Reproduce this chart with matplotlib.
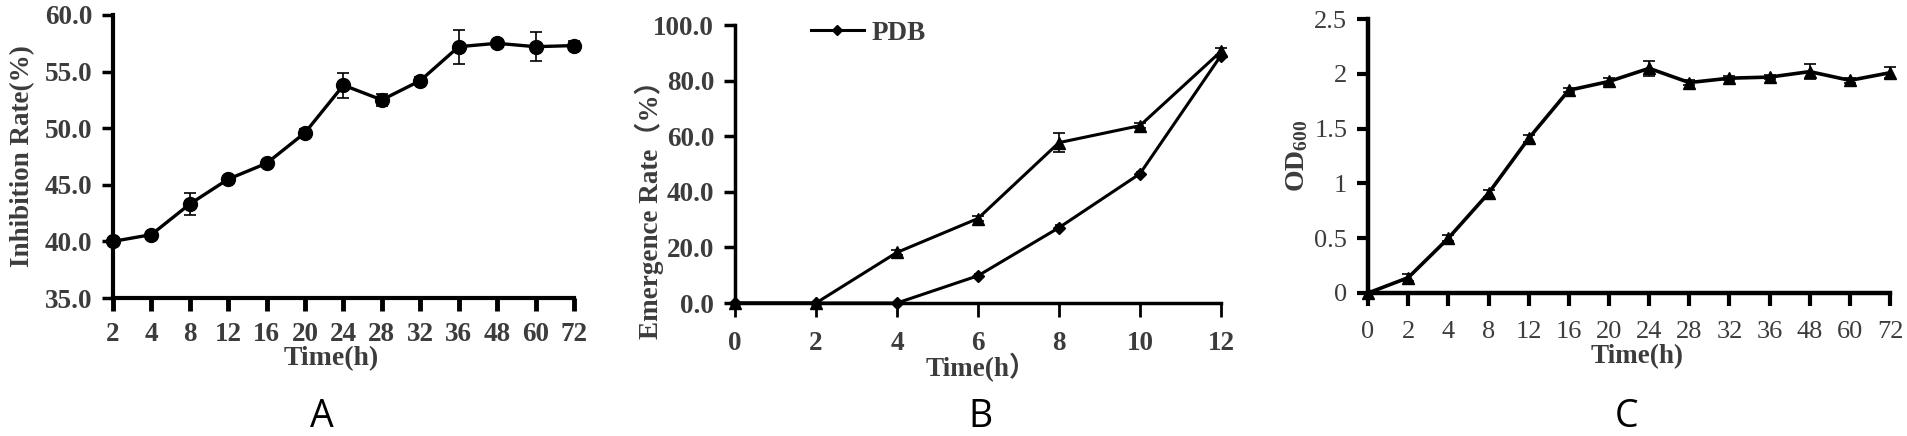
import numpy as np
import matplotlib
matplotlib.use("Agg")
import matplotlib.pyplot as plt
from matplotlib.lines import Line2D

# fonts
plt.rcParams['font.family'] = ['Liberation Serif', 'Noto Sans CJK SC', 'DejaVu Sans']
plt.rcParams['mathtext.default'] = 'regular'
TXT = '#3c3c3c'

# ---- data, panel A: inhibition rate
time_a = ['2', '4', '8', '12', '16', '20', '24', '28', '32', '36', '48', '60', '72']
inhib = [40.0, 40.6, 43.3, 45.5, 46.9, 49.6, 53.8, 52.5, 54.2, 57.2, 57.5, 57.2, 57.3]
inhib_err = [0.2, 0.2, 1.0, 0.3, 0.3, 0.3, 1.1, 0.5, 0.3, 1.5, 0.2, 1.3, 0.4]

# ---- panel B: emergence rate
time_b = [0, 2, 4, 6, 8, 10, 12]
emerg_tri = [0.0, 0.0, 18.2, 30.4, 57.7, 63.8, 90.5]
emerg_tri_err = [0.0, 0.0, 0.8, 0.8, 3.4, 0.8, 1.2]
emerg_pdb = [0.0, 0.0, 0.0, 9.8, 27.1, 46.5, 89.0]
emerg_pdb_err = [0.0, 0.0, 0.0, 0.5, 0.8, 0.8, 0.8]

# ---- panel C: OD600
time_c = ['0', '2', '4', '8', '12', '16', '20', '24', '28', '32', '36', '48', '60', '72']
od600 = [0.0, 0.14, 0.50, 0.91, 1.41, 1.85, 1.93, 2.05, 1.92, 1.96, 1.97, 2.02, 1.94, 2.01]
od600_err = [0.01, 0.03, 0.03, 0.03, 0.03, 0.02, 0.03, 0.07, 0.02, 0.02, 0.02, 0.07, 0.02, 0.05]

fig = plt.figure(figsize=(19.08, 4.36), dpi=100)

def style(ax, lw):
    for s in ['top', 'right']:
        ax.spines[s].set_visible(False)
    for s in ['left', 'bottom']:
        ax.spines[s].set_linewidth(lw)
        ax.spines[s].set_color('black')

# ---------------- A
axA = fig.add_axes([0.0592, 0.3165, 0.2416, 0.6491])
xa = np.arange(len(time_a))
axA.errorbar(xa, inhib, yerr=inhib_err, color='black', lw=2.4, marker='o', ms=10,
             capsize=4, elinewidth=1.2, capthick=1.2, clip_on=False)
axA.set_xlim(0, len(time_a) - 1)
axA.set_ylim(35, 60)
axA.set_yticks(np.arange(35, 60.1, 5))
axA.set_yticklabels(['%.1f' % v for v in np.arange(35, 60.1, 5)])
axA.set_xticks(xa)
axA.set_xticklabels(time_a)
style(axA, 3)
axA.tick_params(axis='x', length=9, width=3.5, pad=8, direction='out')
axA.tick_params(axis='y', length=8, width=2.5, pad=7, direction='out')
for lab in axA.get_xticklabels() + axA.get_yticklabels():
    lab.set_fontsize(19.5); lab.set_fontweight('bold'); lab.set_color(TXT)
axA.set_ylabel('Inhibition Rate(%)', fontsize=19.5, fontweight='bold', color=TXT)
axA.yaxis.set_label_coords(-0.169, 0.5)
axA.set_xlabel('Time(h)', fontsize=20, fontweight='bold', color=TXT)
axA.xaxis.set_label_coords(0.473, -0.17)

# ---------------- B
axB = fig.add_axes([0.3852, 0.3050, 0.2547, 0.6376])
axB.errorbar(time_b, emerg_tri, yerr=emerg_tri_err, color='black', lw=2.2, marker='^', ms=9,
             capsize=4, elinewidth=1.2, capthick=1.2, clip_on=False)
axB.errorbar(time_b, emerg_pdb, yerr=emerg_pdb_err, color='black', lw=2.2, marker='D', ms=6,
             capsize=3, elinewidth=1.2, capthick=1.2, clip_on=False)
axB.set_xlim(0, 12)
axB.set_ylim(0, 100)
axB.set_xticks(time_b)
axB.set_yticks(np.arange(0, 100.1, 20))
axB.set_yticklabels(['%.1f' % v for v in np.arange(0, 100.1, 20)])
style(axB, 2.5)
axB.tick_params(axis='x', length=10, width=2, pad=10, direction='out')
axB.tick_params(axis='y', length=8, width=2.5, pad=7, direction='out')
for lab in axB.get_xticklabels() + axB.get_yticklabels():
    lab.set_fontsize(19.5); lab.set_fontweight('bold'); lab.set_color(TXT)
axB.set_ylabel('Emergence Rate（%）', fontsize=19.5, fontweight='bold', color=TXT)
axB.yaxis.set_label_coords(-0.146, 0.36)
axB.set_xlabel('Time(h）', fontsize=19.5, fontweight='bold', color=TXT)
axB.xaxis.set_label_coords(0.506, -0.18)
pdb_handle = Line2D([], [], color='black', lw=2.2, marker='D', ms=5)
leg = axB.legend([pdb_handle], ['PDB'], loc='center left', bbox_to_anchor=(0.156, 0.971),
                 frameon=False, borderpad=0, borderaxespad=0,
                 handlelength=1.95, handletextpad=0.3, prop={'size': 19.5, 'weight': 'bold'})
for t in leg.get_texts():
    t.set_color(TXT)

# ---------------- C
axC = fig.add_axes([0.7170, 0.3280, 0.2736, 0.6284])
xc = np.arange(len(time_c))
axC.errorbar(xc, od600, yerr=od600_err, color='black', lw=2.6, marker='^', ms=9,
             capsize=4, elinewidth=1.2, capthick=1.2, clip_on=False)
axC.set_xlim(0, len(time_c) - 1)
axC.set_ylim(0, 2.5)
axC.set_xticks(xc)
axC.set_xticklabels(time_c)
axC.set_yticks([0, 0.5, 1, 1.5, 2, 2.5])
axC.set_yticklabels(['0', '0.5', '1', '1.5', '2', '2.5'])
style(axC, 3.2)
axC.tick_params(axis='x', length=9, width=3, pad=11, direction='out')
axC.tick_params(axis='y', length=8, width=3, pad=7, direction='out')
for lab in axC.get_xticklabels() + axC.get_yticklabels():
    lab.set_fontsize(19); lab.set_color(TXT)
axC.set_ylabel(r'OD$\mathregular{_{600}}$', fontsize=20, fontweight='bold', color=TXT)
axC.yaxis.set_label_coords(-0.111, 0.5)
axC.set_xlabel('Time(h)', fontsize=19.5, fontweight='bold', color=TXT)
axC.xaxis.set_label_coords(0.515, -0.186)

# panel letters
for x, s in [(322, 'A'), (980, 'B'), (1627, 'C')]:
    fig.text(x / 1908, 1 - 417 / 436, s, fontsize=27, family='Open Sans',
             ha='center', va='center', color='black')

fig.savefig('out.png', dpi=100)
